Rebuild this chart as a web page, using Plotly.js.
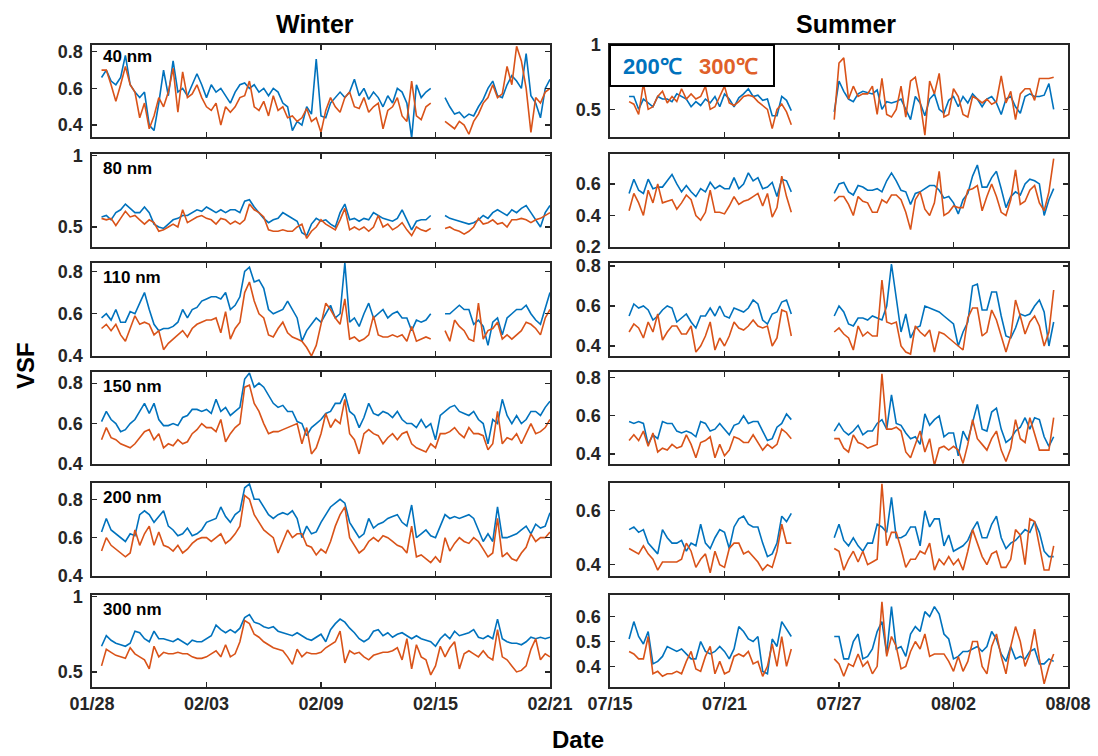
<!DOCTYPE html>
<html>
<head>
<meta charset="utf-8">
<script src="https://cdn.plot.ly/plotly-3.0.1.min.js"></script>
<style>html,body{margin:0;padding:0;background:#fff;}#chart{width:1098px;height:756px;}</style>
</head>
<body>
<div id="chart"></div>
<script>
// ---------------- DATA ----------------
const sizeLabels = ['40 nm', '80 nm', '110 nm', '150 nm', '200 nm', '300 nm'];
const seriesNames = ['200℃', '300℃'];
const winterStart = '2019-01-28T12:00:00Z';   // 6-hourly samples
const summerStart = '2019-07-16T00:00:00Z';   // 6-hourly samples
const stepHours = 6;
const winterTickVals = ['2019-01-28', '2019-02-03', '2019-02-09', '2019-02-15', '2019-02-21'];
const winterTickText = ['01/28', '02/03', '02/09', '02/15', '02/21'];
const summerTickVals = ['2019-07-15', '2019-07-21', '2019-07-27', '2019-08-02', '2019-08-08'];
const summerTickText = ['07/15', '07/21', '07/27', '08/02', '08/08'];

// Winter, 200℃ / 300℃
const w40_200 = [.66,.70,.64,.62,.66,.78,.62,.58,.55,.58,
  .40,.37,.52,.70,.56,.75,.58,.60,.56,.62,
  .68,.62,.55,.62,.58,.60,.56,.52,.58,.62,
  .63,.60,.62,.58,.60,.56,.60,.58,.52,.50,
  .37,.42,.40,.50,.46,.76,.45,.44,.52,.55,
  .58,.55,.58,.65,.56,.60,.54,.58,.55,.50,
  .56,.52,.60,.58,.52,.33,.62,.55,.58,.60,
  null,null,.55,.50,.46,.47,.44,.46,.45,.50,
  .54,.60,.64,.56,.55,.62,.67,.64,.60,.79,
  .56,.52,.44,.60,.65];
const w40_300 = [.70,.70,.62,.53,.62,.72,.62,.58,.44,.52,
  .38,.45,.55,.50,.58,.71,.47,.69,.55,.57,
  .62,.55,.50,.48,.52,.40,.50,.47,.50,.55,
  .56,.64,.50,.48,.53,.45,.56,.48,.50,.44,
  .45,.42,.44,.49,.42,.44,.36,.48,.55,.50,
  .47,.55,.58,.50,.49,.55,.47,.50,.52,.38,
  .48,.50,.55,.45,.42,.64,.45,.43,.50,.52,
  null,null,.42,.40,.38,.42,.40,.35,.42,.46,
  .52,.55,.62,.55,.57,.72,.62,.83,.75,.60,
  .36,.55,.52,.58,.60];
const w80_200 = [.57,.58,.55,.60,.62,.66,.63,.60,.60,.64,
  .60,.52,.50,.49,.52,.55,.56,.58,.58,.60,
  .62,.61,.64,.62,.60,.62,.60,.62,.62,.60,
  .68,.69,.64,.60,.56,.53,.55,.56,.60,.58,
  .56,.54,.46,.44,.52,.56,.54,.55,.52,.50,
  .60,.66,.55,.56,.54,.56,.55,.60,.58,.56,
  .55,.54,.56,.62,.55,.48,.54,.55,.55,.58,
  null,null,.58,.56,.55,.54,.53,.52,.53,.55,
  .58,.56,.60,.62,.60,.58,.62,.60,.63,.65,
  .60,.55,.50,.60,.65];
const w80_300 = [.56,.55,.56,.51,.56,.61,.57,.58,.55,.52,
  .55,.53,.47,.48,.50,.52,.50,.62,.53,.55,
  .57,.58,.56,.55,.52,.56,.55,.52,.54,.52,
  .55,.66,.62,.60,.57,.48,.47,.47,.48,.47,
  .47,.50,.52,.42,.47,.50,.55,.52,.50,.48,
  .55,.63,.48,.50,.48,.50,.47,.50,.58,.50,
  .52,.48,.50,.53,.48,.44,.50,.48,.47,.49,
  null,null,.49,.50,.48,.47,.45,.47,.50,.56,
  .52,.53,.55,.52,.53,.50,.55,.55,.56,.55,
  .53,.55,.56,.58,.60];
const w110_200 = [.58,.60,.57,.62,.56,.56,.61,.60,.65,.70,
  .62,.55,.52,.53,.53,.54,.56,.62,.58,.62,
  .63,.66,.67,.68,.68,.67,.70,.62,.64,.68,
  .80,.82,.75,.76,.72,.62,.60,.61,.62,.66,
  .62,.58,.47,.52,.55,.58,.56,.60,.64,.58,
  .60,.84,.56,.58,.54,.60,.65,.58,.60,.62,
  .58,.60,.61,.58,.58,.52,.57,.56,.57,.60,
  null,null,.60,.60,.62,.64,.62,.62,.55,.57,
  .54,.45,.56,.58,.50,.58,.60,.62,.62,.64,
  .60,.57,.55,.62,.70];
const w110_300 = [.53,.55,.52,.55,.50,.47,.53,.59,.55,.56,
  .55,.50,.52,.43,.46,.48,.50,.52,.49,.53,
  .55,.56,.57,.57,.58,.51,.61,.48,.53,.56,
  .70,.75,.66,.60,.58,.50,.49,.53,.56,.51,
  .49,.48,.47,.44,.40,.45,.55,.65,.62,.58,
  .55,.67,.48,.49,.47,.48,.50,.59,.50,.49,
  .49,.50,.49,.50,.47,.54,.47,.48,.49,.48,
  null,null,.52,.47,.57,.54,.52,.48,.47,.65,
  .48,.52,.53,.56,.48,.50,.48,.50,.52,.56,
  .55,.53,.50,.58,.62];
const w150_200 = [.61,.66,.62,.60,.56,.57,.60,.62,.66,.70,
  .65,.70,.62,.59,.59,.60,.59,.63,.64,.67,
  .67,.66,.67,.65,.72,.66,.68,.64,.66,.68,
  .82,.85,.78,.80,.78,.74,.70,.68,.69,.66,
  .66,.61,.60,.54,.58,.60,.62,.65,.66,.70,
  .70,.75,.66,.64,.58,.63,.70,.65,.64,.66,
  .65,.63,.66,.62,.60,.60,.58,.62,.58,.60,
  .52,.64,.66,.68,.69,.66,.65,.64,.66,.62,
  .60,.50,.62,.60,.72,.64,.60,.64,.60,.62,
  .66,.66,.64,.68,.71];
const w150_300 = [.52,.58,.53,.52,.50,.49,.48,.50,.53,.56,
  .57,.52,.55,.48,.50,.49,.52,.50,.51,.55,
  .57,.60,.58,.58,.56,.62,.51,.55,.58,.60,
  .78,.79,.70,.66,.60,.55,.56,.56,.57,.58,
  .59,.60,.50,.58,.45,.48,.55,.65,.58,.62,
  .60,.72,.55,.52,.45,.55,.57,.55,.54,.50,
  .53,.55,.52,.55,.56,.50,.48,.47,.46,.50,
  .48,.55,.55,.56,.58,.55,.53,.58,.55,.55,
  .54,.47,.50,.66,.50,.53,.52,.55,.50,.55,
  .60,.55,.56,.58,.62];
const w200_200 = [.63,.70,.64,.62,.60,.58,.62,.61,.72,.74,
  .72,.68,.71,.74,.66,.64,.61,.62,.65,.61,
  .62,.64,.68,.69,.70,.76,.71,.68,.72,.74,
  .86,.88,.80,.80,.76,.72,.70,.72,.73,.72,
  .74,.70,.60,.66,.62,.63,.68,.72,.76,.78,
  .80,.78,.68,.64,.60,.62,.70,.65,.67,.68,
  .70,.71,.72,.68,.66,.77,.60,.62,.64,.61,
  .60,.66,.72,.70,.71,.70,.71,.72,.70,.64,
  .58,.62,.58,.76,.60,.60,.61,.62,.64,.66,
  .62,.67,.65,.66,.73];
const w200_300 = [.53,.60,.56,.54,.52,.50,.52,.64,.56,.62,
  .66,.56,.63,.56,.55,.53,.56,.52,.54,.57,
  .59,.60,.60,.58,.60,.62,.57,.59,.62,.66,
  .82,.80,.72,.68,.64,.62,.60,.52,.58,.64,
  .60,.62,.62,.56,.55,.51,.54,.52,.58,.66,
  .72,.76,.60,.56,.52,.54,.58,.60,.58,.61,
  .60,.58,.56,.55,.52,.66,.50,.51,.49,.47,
  .50,.47,.60,.53,.57,.60,.58,.57,.60,.58,
  .54,.50,.52,.70,.50,.52,.49,.48,.52,.55,
  .62,.58,.60,.60,.63];
const w300_200 = [.67,.74,.71,.69,.68,.67,.69,.77,.76,.72,
  .70,.77,.72,.72,.71,.70,.72,.70,.68,.71,
  .70,.70,.72,.74,.81,.78,.76,.78,.76,.79,
  .86,.88,.83,.82,.80,.79,.80,.77,.76,.75,
  .74,.76,.74,.72,.71,.73,.75,.70,.78,.82,
  .85,.83,.79,.76,.72,.70,.72,.77,.78,.74,
  .76,.73,.75,.76,.74,.72,.74,.72,.71,.70,
  .67,.72,.75,.72,.77,.74,.75,.76,.78,.73,
  .72,.74,.72,.85,.72,.70,.69,.69,.68,.70,
  .73,.72,.73,.72,.73];
const w300_300 = [.54,.65,.63,.61,.60,.59,.66,.62,.60,.58,
  .52,.67,.60,.63,.62,.62,.63,.62,.62,.60,
  .59,.59,.60,.62,.64,.60,.68,.60,.62,.70,
  .84,.82,.75,.73,.70,.68,.66,.65,.64,.60,
  .55,.65,.60,.63,.62,.62,.63,.66,.68,.70,
  .77,.56,.64,.62,.63,.60,.58,.61,.62,.63,
  .63,.64,.66,.58,.72,.52,.68,.60,.58,.48,
  .54,.67,.60,.66,.70,.52,.62,.64,.62,.60,
  .64,.60,.58,.78,.60,.58,.54,.50,.51,.54,
  .65,.72,.58,.62,.60];

// Summer, 200℃ / 300℃ (gap = no measurements)
const s40_200 = [.60,.60,.50,.58,.55,.52,.60,.58,.58,.56,
  .62,.60,.58,.52,.56,.53,.58,.55,.60,.52,
  .62,.58,.52,.59,.62,.66,.60,.61,.57,.58,
  .45,.45,.60,.57,.49,
  null,null,null,null,null,null,null,null,
  .48,.72,.64,.58,.56,.62,.64,.63,.62,.65,
  .50,.56,.55,.56,.58,.50,.42,.60,.55,.45,
  .58,.62,.50,.47,.57,.60,.52,.60,.55,.62,
  .58,.52,.58,.60,.55,.46,.58,.60,.52,.47,
  .60,.62,.60,.60,.61,.70,.50];
const s40_300 = [.56,.54,.46,.70,.50,.52,.60,.64,.55,.60,
  .56,.66,.58,.62,.58,.60,.68,.50,.52,.60,
  .68,.55,.53,.56,.60,.61,.60,.56,.53,.50,
  .35,.50,.54,.48,.38,
  null,null,null,null,null,null,null,null,
  .42,.86,.90,.58,.68,.60,.62,.62,.68,.46,
  .74,.46,.44,.50,.68,.44,.72,.75,.56,.30,
  .72,.62,.78,.44,.46,.66,.60,.46,.44,.60,
  .58,.55,.58,.54,.56,.76,.55,.64,.42,.62,
  .66,.66,.57,.74,.74,.74,.75];
const s80_200 = [.54,.63,.56,.54,.63,.57,.58,.58,.62,.66,
  .60,.55,.59,.55,.52,.57,.55,.61,.57,.59,
  .57,.57,.64,.57,.60,.67,.62,.64,.57,.58,
  .61,.52,.63,.62,.55,
  null,null,null,null,null,null,null,null,
  .54,.60,.61,.55,.53,.59,.58,.56,.56,.57,
  .55,.62,.67,.62,.56,.55,.47,.54,.55,.57,
  .59,.59,.56,.51,.52,.48,.41,.50,.54,.65,
  .72,.58,.58,.64,.68,.57,.45,.52,.55,.53,
  .60,.63,.62,.60,.40,.50,.57];
const s80_300 = [.43,.54,.48,.40,.56,.48,.60,.48,.49,.50,
  .44,.48,.53,.50,.40,.37,.42,.56,.42,.42,
  .41,.46,.52,.47,.49,.50,.52,.54,.46,.54,
  .39,.45,.65,.52,.42,
  null,null,null,null,null,null,null,null,
  .49,.52,.52,.47,.40,.52,.49,.48,.42,.42,
  .50,.48,.53,.53,.50,.42,.31,.50,.55,.44,
  .40,.48,.68,.40,.42,.46,.45,.45,.56,.57,
  .59,.43,.52,.60,.52,.42,.40,.50,.69,.47,
  .49,.56,.59,.48,.43,.55,.76];
const s110_200 = [.55,.61,.59,.60,.58,.53,.55,.58,.60,.59,
  .52,.54,.56,.52,.49,.55,.55,.59,.55,.60,
  .55,.54,.59,.58,.57,.59,.63,.61,.53,.51,
  .56,.57,.62,.63,.56,
  null,null,null,null,null,null,null,null,
  .55,.60,.57,.51,.50,.54,.54,.53,.55,.54,
  .53,.60,.81,.64,.47,.56,.44,.49,.50,.60,
  .59,.58,.57,.55,.53,.51,.40,.47,.52,.70,
  .71,.58,.58,.67,.67,.55,.45,.44,.49,.56,
  .55,.56,.60,.63,.57,.40,.52];
const s110_300 = [.47,.51,.49,.44,.52,.47,.56,.43,.47,.50,
  .50,.46,.46,.50,.37,.40,.45,.52,.38,.44,
  .40,.45,.52,.49,.48,.50,.53,.50,.49,.50,
  .40,.44,.58,.57,.45,
  null,null,null,null,null,null,null,null,
  .47,.49,.46,.44,.38,.50,.45,.47,.45,.45,
  .73,.52,.51,.52,.40,.37,.36,.50,.47,.45,
  .48,.37,.47,.46,.44,.42,.40,.38,.54,.59,
  .59,.45,.47,.58,.53,.45,.37,.45,.63,.55,
  .46,.52,.55,.50,.40,.47,.68];
const s150_200 = [.57,.56,.57,.56,.45,.50,.48,.57,.56,.56,
  .52,.51,.52,.51,.49,.57,.56,.52,.53,.56,
  .53,.50,.55,.56,.60,.56,.57,.57,.52,.47,
  .48,.54,.56,.61,.58,
  null,null,null,null,null,null,null,null,
  .52,.56,.52,.50,.52,.55,.50,.52,.52,.56,
  .58,.53,.71,.56,.55,.51,.48,.49,.45,.61,
  .55,.58,.60,.49,.51,.51,.39,.52,.47,.57,
  .66,.53,.52,.62,.64,.53,.46,.48,.52,.54,
  .59,.53,.59,.58,.49,.44,.49];
const s150_300 = [.47,.50,.47,.52,.44,.51,.41,.43,.42,.45,
  .43,.44,.50,.45,.38,.46,.47,.49,.38,.45,
  .39,.42,.49,.48,.46,.46,.50,.46,.42,.45,
  .43,.45,.53,.51,.48,
  null,null,null,null,null,null,null,null,
  .48,.48,.43,.41,.50,.46,.45,.43,.44,.45,
  .82,.53,.53,.54,.52,.41,.38,.45,.52,.41,
  .48,.34,.43,.44,.42,.44,.42,.35,.45,.58,
  .48,.45,.42,.48,.52,.42,.36,.43,.58,.48,
  .46,.59,.50,.42,.42,.42,.59];
const s200_200 = [.53,.54,.52,.53,.48,.46,.44,.53,.50,.48,
  .48,.49,.45,.48,.47,.55,.48,.46,.50,.53,
  .52,.46,.54,.57,.58,.55,.54,.54,.48,.43,
  .44,.48,.58,.56,.59,
  null,null,null,null,null,null,null,null,
  .50,.55,.49,.47,.50,.47,.45,.48,.48,.55,
  .54,.52,.65,.50,.50,.51,.54,.54,.47,.60,
  .54,.57,.57,.47,.51,.45,.46,.47,.49,.53,
  .56,.50,.50,.55,.58,.50,.46,.48,.49,.51,
  .53,.52,.56,.52,.45,.43,.43];
const s200_300 = [.46,.45,.44,.47,.44,.42,.38,.41,.41,.41,
  .41,.42,.48,.45,.39,.42,.44,.37,.45,.40,
  .39,.46,.48,.48,.44,.45,.43,.41,.38,.40,
  .39,.45,.55,.48,.48,
  null,null,null,null,null,null,null,null,
  .46,.45,.38,.42,.45,.41,.45,.40,.41,.42,
  .70,.47,.52,.52,.46,.39,.42,.42,.45,.44,
  .48,.38,.42,.40,.43,.40,.42,.38,.45,.53,
  .48,.43,.40,.44,.45,.39,.39,.42,.53,.51,
  .40,.57,.56,.47,.38,.38,.47];
const s300_200 = [.51,.58,.52,.49,.54,.41,.42,.44,.48,.47,
  .46,.47,.45,.43,.43,.50,.46,.45,.46,.48,
  .46,.43,.47,.56,.54,.51,.50,.52,.38,.37,
  .51,.48,.58,.55,.52,
  null,null,null,null,null,null,null,null,
  .52,.52,.43,.43,.50,.53,.43,.44,.47,.54,
  .58,.45,.64,.47,.48,.44,.53,.56,.54,.62,
  .60,.64,.61,.53,.51,.43,.44,.46,.46,.47,
  .48,.46,.48,.54,.51,.45,.42,.48,.43,.44,
  .43,.46,.47,.41,.41,.43,.42];
const s300_300 = [.46,.45,.43,.43,.52,.37,.38,.36,.37,.37,
  .38,.37,.42,.46,.39,.38,.44,.48,.37,.42,
  .37,.38,.44,.45,.44,.46,.41,.42,.36,.40,
  .49,.40,.52,.40,.47,
  null,null,null,null,null,null,null,null,
  .43,.41,.36,.41,.40,.45,.40,.42,.37,.40,
  .66,.44,.52,.48,.39,.40,.46,.50,.47,.53,
  .44,.45,.45,.45,.42,.38,.44,.38,.42,.50,
  .50,.40,.37,.48,.53,.44,.37,.48,.56,.50,
  .40,.45,.55,.43,.33,.40,.45];

// y-axis ranges and ticks per panel (row order 40..300 nm)
const winterYRange = [[0.335,0.837],[0.36,1.01],[0.40,0.84],[0.40,0.855],[0.40,0.885],[0.40,1.01]];
const winterYTicks = [[0.4,0.6,0.8],[0.5,1],[0.4,0.6,0.8],[0.4,0.6,0.8],[0.4,0.6,0.8],[0.5,1]];
const summerYRange = [[0.285,1.0],[0.2,0.79],[0.35,0.815],[0.347,0.83],[0.358,0.703],[0.317,0.687]];
const summerYTicks = [[0.5,1],[0.2,0.4,0.6],[0.4,0.6,0.8],[0.4,0.6,0.8],[0.4,0.6],[0.4,0.5,0.6]];

const winterSeries = [[w40_200,w40_300],[w80_200,w80_300],[w110_200,w110_300],[w150_200,w150_300],[w200_200,w200_300],[w300_200,w300_300]];
const summerSeries = [[s40_200,s40_300],[s80_200,s80_300],[s110_200,s110_300],[s150_200,s150_300],[s200_200,s200_300],[s300_200,s300_300]];

// ---------------- CHART ----------------
const W = 1098, H = 756;
const BLUE = '#0072BD', ORANGE = '#D95319', FRAME = '#262626';
const FONT = 'Liberation Sans, Arial, Helvetica, sans-serif';

function makeTimes(startIso, n, hours) {
  const t0 = Date.parse(startIso);
  const out = [];
  for (let i = 0; i < n; i++) {
    const d = new Date(t0 + i * hours * 3600e3);
    const p = v => String(v).padStart(2, '0');
    out.push(d.getUTCFullYear() + '-' + p(d.getUTCMonth() + 1) + '-' + p(d.getUTCDate()) + ' ' + p(d.getUTCHours()) + ':00');
  }
  return out;
}
const winterX = makeTimes(winterStart, w40_200.length, stepHours);
const summerX = makeTimes(summerStart, s40_200.length, stepHours);

const colX = [[92, 550], [610, 1068]];
const rowY = [[45,137],[154,247],[263,356],[372,464],[483,576],[595,687]];

const traces = [];
const layout = {
  width: W, height: H,
  margin: {l: 0, r: 0, t: 0, b: 0},
  paper_bgcolor: '#fff', plot_bgcolor: '#fff',
  showlegend: false,
  font: {family: FONT, color: FRAME},
  annotations: [], shapes: []
};

for (let c = 0; c < 2; c++) {
  for (let r = 0; r < 6; r++) {
    const n = c * 6 + r + 1;
    const xa = n === 1 ? 'xaxis' : 'xaxis' + n;
    const ya = n === 1 ? 'yaxis' : 'yaxis' + n;
    const xr = n === 1 ? 'x' : 'x' + n;
    const yr = n === 1 ? 'y' : 'y' + n;
    const xs = c === 0 ? winterX : summerX;
    const ser = c === 0 ? winterSeries[r] : summerSeries[r];
    [BLUE, ORANGE].forEach((col, k) => {
      traces.push({
        type: 'scatter', mode: 'lines', x: xs, y: ser[k], name: seriesNames[k],
        xaxis: xr, yaxis: yr, line: {color: col, width: 1.6}, connectgaps: false,
        hoverinfo: 'skip'
      });
    });
    const isBottom = r === 5;
    layout[xa] = {
      domain: [colX[c][0] / W, colX[c][1] / W],
      anchor: yr, type: 'date',
      range: c === 0 ? ['2019-01-28', '2019-02-21'] : ['2019-07-15', '2019-08-08'],
      tickmode: 'array',
      tickvals: c === 0 ? winterTickVals : summerTickVals,
      ticktext: c === 0 ? winterTickText : summerTickText,
      showticklabels: isBottom,
      ticks: 'inside', ticklen: 5, tickwidth: 1.2, tickcolor: FRAME,
      showline: true, linecolor: FRAME, linewidth: 1.6, mirror: 'ticks',
      showgrid: false, zeroline: false, fixedrange: true,
      tickfont: {family: FONT, size: 18, color: FRAME, weight: 'bold'},
      ticklabelstandoff: 0
    };
    layout[ya] = {
      domain: [1 - rowY[r][1] / H, 1 - rowY[r][0] / H],
      anchor: xr,
      range: c === 0 ? winterYRange[r] : summerYRange[r],
      tickmode: 'array',
      tickvals: c === 0 ? winterYTicks[r] : summerYTicks[r],
      ticks: 'inside', ticklen: 5, tickwidth: 1.2, tickcolor: FRAME,
      showline: true, linecolor: FRAME, linewidth: 1.6, mirror: 'ticks',
      showgrid: false, zeroline: false, fixedrange: true,
      tickfont: {family: FONT, size: 18, color: FRAME, weight: 'bold'},
      ticklabelstandoff: 4
    };
    if (c === 0) {
      const yc = r === 0 ? 56 : rowY[r][0] + 14;
      layout.annotations.push({
        xref: 'paper', yref: 'paper', x: 101 / W, y: 1 - yc / H,
        xanchor: 'left', yanchor: 'middle', showarrow: false,
        text: '<b>' + sizeLabels[r] + '</b>',
        font: {family: FONT, size: 17, color: '#000'}
      });
    }
  }
}

function ann(text, x, y, size, extra) {
  return Object.assign({
    xref: 'paper', yref: 'paper', x: x / W, y: 1 - y / H,
    xanchor: 'center', yanchor: 'middle', showarrow: false,
    text: text, font: {family: FONT, size: size, color: '#000'}
  }, extra || {});
}
layout.annotations.push(ann('<b>Winter</b>', 315, 24, 25));
layout.annotations.push(ann('<b>Summer</b>', 846, 24, 25));
layout.annotations.push(ann('<b>VSF</b>', 25, 366, 24, {textangle: -90}));
layout.annotations.push(ann('<b>Date</b>', 578, 739, 24));

// legend box (top-left of the first summer panel)
layout.shapes.push({
  type: 'rect', xref: 'paper', yref: 'paper',
  x0: 610 / W, x1: 774 / W, y0: 1 - 86 / H, y1: 1 - 45 / H,
  line: {color: '#000', width: 2}, fillcolor: 'rgba(255,255,255,1)', layer: 'above'
});
layout.annotations.push(ann('<b>' + seriesNames[0] + '</b>', 652, 66, 22, {font: {family: FONT, size: 22, color: BLUE}}));
layout.annotations.push(ann('<b>' + seriesNames[1] + '</b>', 728, 66, 22, {font: {family: FONT, size: 22, color: '#E0602A'}}));

Plotly.newPlot('chart', traces, layout, {staticPlot: true, displayModeBar: false});
</script>
</body>
</html>
